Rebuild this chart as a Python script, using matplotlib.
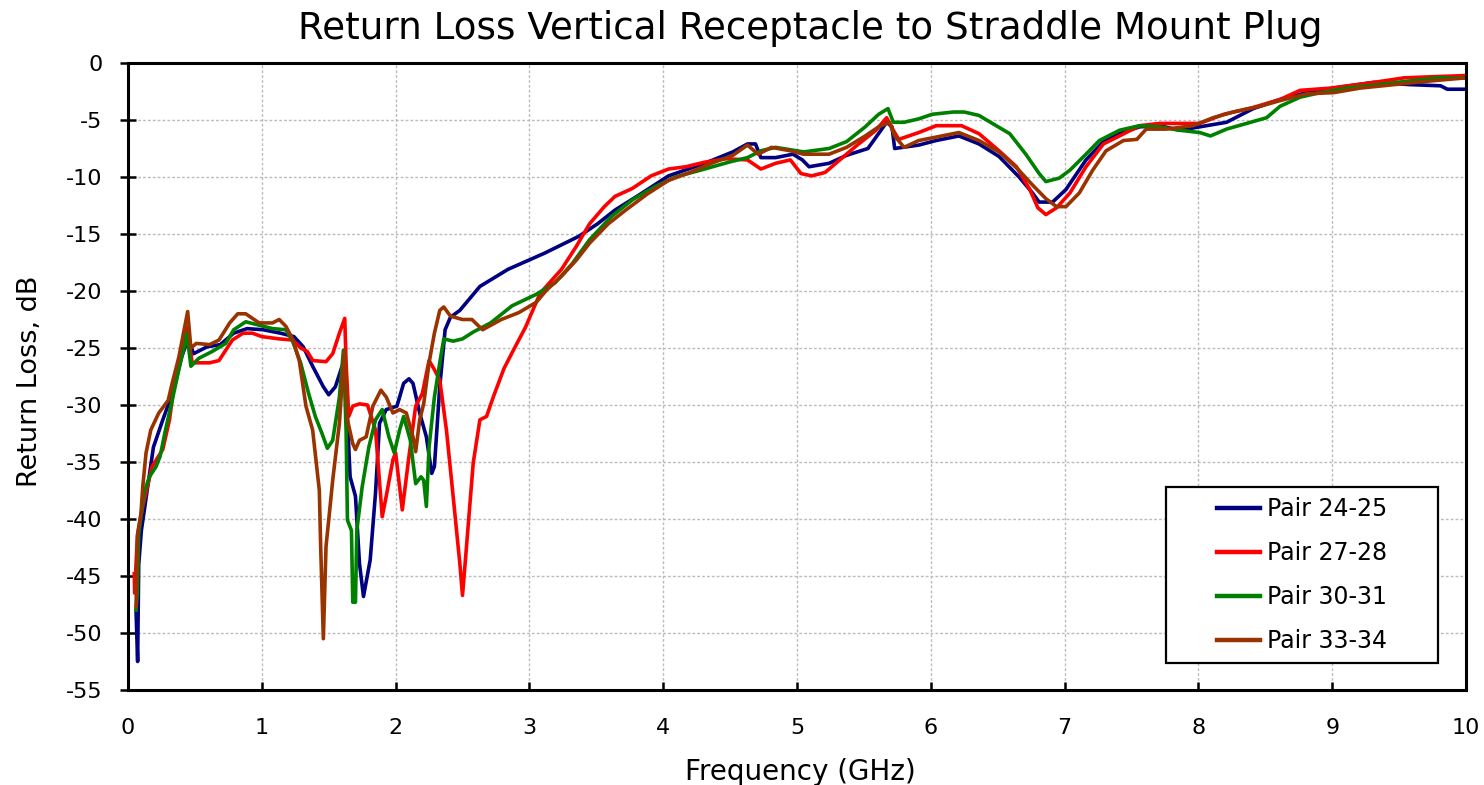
import matplotlib
matplotlib.use("Agg")
import matplotlib.pyplot as plt
from matplotlib.patches import Rectangle

plt.rcParams['font.family'] = ['DejaVu Sans']

# ---------------- data ----------------
f_24_25 = [0.06, 0.072, 0.08, 0.10, 0.19, 0.26, 0.34, 0.40, 0.45, 0.49, 0.59, 0.69, 0.79, 0.89,
           1.01, 1.14, 1.24, 1.31, 1.38, 1.46, 1.50, 1.55, 1.60, 1.62, 1.66, 1.70, 1.73, 1.76,
           1.81, 1.85, 1.88, 1.93, 2.01, 2.06, 2.10, 2.13, 2.18, 2.23, 2.27, 2.29, 2.33, 2.37,
           2.41, 2.48, 2.63, 2.84, 3.11, 3.37, 3.51, 3.64, 3.83, 4.04, 4.31, 4.52, 4.63, 4.69,
           4.73, 4.84, 4.97, 5.04, 5.09, 5.24, 5.37, 5.53, 5.67, 5.71, 5.73, 5.91, 6.04, 6.21,
           6.36, 6.51, 6.66, 6.76, 6.81, 6.91, 7.01, 7.16, 7.29, 7.41, 7.56, 7.71, 7.86, 8.01,
           8.21, 8.41, 8.61, 8.81, 9.01, 9.31, 9.59, 9.81, 9.86, 10.0]
rl_24_25 = [-48.0, -52.5, -44.0, -41.0, -33.7, -31.3, -28.7, -25.8, -24.2, -25.5, -24.9, -24.7, -23.7, -23.3,
            -23.4, -23.7, -24.0, -24.9, -26.6, -28.4, -29.1, -28.4, -26.6, -26.0, -36.3, -38.0, -43.9, -46.8,
            -43.6, -37.7, -31.6, -30.4, -30.1, -28.1, -27.7, -28.1, -30.7, -32.8, -36.0, -35.4, -28.4, -23.4,
            -22.3, -21.7, -19.6, -18.1, -16.7, -15.2, -14.1, -12.9, -11.5, -9.9, -8.8, -7.8, -7.1, -7.1,
            -8.3, -8.3, -8.0, -8.5, -9.1, -8.8, -8.1, -7.5, -5.2, -5.6, -7.5, -7.2, -6.8, -6.4,
            -7.1, -8.2, -10.0, -11.4, -12.2, -12.2, -11.1, -8.5, -6.9, -6.2, -5.6, -5.5, -5.9, -5.6,
            -5.2, -4.0, -3.2, -2.6, -2.2, -1.7, -1.9, -2.0, -2.3, -2.3]

f_27_28 = [0.047, 0.05, 0.07, 0.11, 0.18, 0.26, 0.31, 0.34, 0.39, 0.44, 0.48, 0.61, 0.68, 0.73,
           0.78, 0.86, 0.93, 1.00, 1.13, 1.23, 1.29, 1.34, 1.38, 1.48, 1.53, 1.58, 1.62, 1.63,
           1.65, 1.68, 1.73, 1.79, 1.85, 1.90, 1.93, 1.98, 2.00, 2.05, 2.10, 2.15, 2.20, 2.25,
           2.29, 2.33, 2.38, 2.43, 2.48, 2.50, 2.53, 2.58, 2.63, 2.68, 2.73, 2.81, 2.88, 2.97,
           3.08, 3.24, 3.35, 3.45, 3.56, 3.64, 3.77, 3.91, 4.04, 4.17, 4.31, 4.47, 4.63, 4.73,
           4.84, 4.95, 5.03, 5.11, 5.21, 5.32, 5.45, 5.59, 5.67, 5.72, 5.76, 5.91, 6.04, 6.23,
           6.36, 6.51, 6.64, 6.74, 6.80, 6.86, 6.94, 7.04, 7.16, 7.29, 7.41, 7.56, 7.71, 7.86,
           8.01, 8.19, 8.41, 8.61, 8.76, 8.99, 9.31, 9.54, 9.76, 10.0]
rl_27_28 = [-44.8, -46.5, -41.5, -38.9, -35.4, -33.9, -31.3, -28.7, -25.8, -23.2, -26.3, -26.3, -26.1, -25.2,
            -24.3, -23.7, -23.7, -24.0, -24.2, -24.3, -25.0, -25.3, -26.1, -26.2, -25.5, -23.7, -22.4, -26.3,
            -31.0, -30.1, -29.9, -30.0, -32.2, -39.8, -38.0, -34.8, -34.2, -39.2, -34.5, -30.1, -29.0, -26.1,
            -26.9, -27.8, -32.2, -38.0, -43.9, -46.7, -42.4, -35.1, -31.3, -31.0, -29.3, -26.8, -25.2, -23.2,
            -20.2, -18.1, -16.1, -14.1, -12.6, -11.7, -11.0, -9.9, -9.3, -9.1, -8.7, -8.4, -8.5, -9.3,
            -8.8, -8.5, -9.7, -9.9, -9.6, -8.5, -7.2, -5.9, -4.8, -5.9, -6.7, -6.1, -5.5, -5.5,
            -6.2, -7.7, -9.1, -11.1, -12.7, -13.3, -12.7, -11.4, -9.1, -7.1, -6.4, -5.5, -5.3, -5.3,
            -5.3, -4.5, -3.9, -3.2, -2.4, -2.2, -1.7, -1.3, -1.2, -1.1]

f_30_31 = [0.06, 0.07, 0.08, 0.12, 0.16, 0.21, 0.24, 0.28, 0.33, 0.38, 0.43, 0.44, 0.47, 0.53,
           0.63, 0.73, 0.79, 0.88, 0.98, 1.08, 1.18, 1.23, 1.29, 1.35, 1.40, 1.45, 1.49, 1.53,
           1.58, 1.61, 1.63, 1.64, 1.67, 1.68, 1.70, 1.71, 1.75, 1.80, 1.85, 1.90, 1.95, 1.99,
           2.03, 2.06, 2.11, 2.15, 2.19, 2.21, 2.23, 2.25, 2.29, 2.33, 2.36, 2.43, 2.50, 2.58,
           2.71, 2.87, 3.05, 3.19, 3.32, 3.45, 3.61, 3.77, 3.93, 4.09, 4.31, 4.49, 4.63, 4.73,
           4.84, 5.05, 5.24, 5.37, 5.51, 5.61, 5.68, 5.72, 5.80, 5.91, 6.01, 6.17, 6.25, 6.36,
           6.46, 6.59, 6.71, 6.81, 6.86, 6.96, 7.04, 7.16, 7.26, 7.41, 7.56, 7.71, 7.86, 8.01,
           8.09, 8.21, 8.36, 8.51, 8.61, 8.76, 8.91, 9.11, 9.34, 9.56, 9.79, 10.0]
rl_30_31 = [-48.0, -46.5, -41.3, -37.7, -36.3, -35.4, -34.5, -32.2, -29.6, -26.9, -24.4, -23.7, -26.6, -25.9,
            -25.3, -24.6, -23.4, -22.7, -23.0, -23.3, -23.4, -24.4, -26.3, -29.0, -31.0, -32.5, -33.8, -33.1,
            -29.3, -25.2, -32.2, -40.1, -41.0, -47.3, -47.3, -41.0, -37.2, -33.7, -31.3, -30.4, -32.8, -34.2,
            -32.2, -31.0, -33.1, -36.9, -36.3, -36.6, -38.9, -33.7, -29.3, -26.3, -24.2, -24.4, -24.2, -23.6,
            -22.8, -21.3, -20.3, -19.3, -17.6, -15.5, -13.5, -12.0, -10.9, -10.0, -9.3, -8.7, -8.3, -7.7,
            -7.4, -7.8, -7.5, -6.9, -5.6, -4.5, -4.0, -5.2, -5.2, -4.9, -4.5, -4.3, -4.3, -4.6,
            -5.3, -6.2, -8.0, -9.7, -10.4, -10.1, -9.4, -8.0, -6.8, -5.9, -5.5, -5.6, -5.9, -6.1,
            -6.4, -5.8, -5.3, -4.8, -3.8, -3.0, -2.6, -2.2, -1.9, -1.6, -1.3, -1.3]

f_33_34 = [0.06, 0.072, 0.097, 0.11, 0.135, 0.17, 0.23, 0.30, 0.33, 0.38, 0.446, 0.47, 0.51, 0.61,
           0.68, 0.76, 0.82, 0.88, 0.98, 1.08, 1.13, 1.18, 1.23, 1.28, 1.33, 1.38, 1.43, 1.44,
           1.46, 1.48, 1.50, 1.53, 1.58, 1.61, 1.62, 1.64, 1.68, 1.70, 1.73, 1.78, 1.83, 1.89,
           1.93, 1.98, 2.03, 2.08, 2.13, 2.15, 2.18, 2.21, 2.25, 2.29, 2.33, 2.36, 2.41, 2.50,
           2.57, 2.65, 2.79, 2.92, 3.05, 3.13, 3.24, 3.35, 3.45, 3.59, 3.72, 3.88, 4.04, 4.20,
           4.36, 4.52, 4.63, 4.71, 4.81, 4.95, 5.05, 5.24, 5.37, 5.51, 5.61, 5.69, 5.73, 5.80,
           5.91, 6.04, 6.21, 6.36, 6.51, 6.65, 6.76, 6.86, 6.94, 7.01, 7.11, 7.21, 7.31, 7.44,
           7.54, 7.61, 7.76, 7.96, 8.11, 8.26, 8.46, 8.61, 8.81, 9.01, 9.21, 9.46, 9.71, 10.0]
rl_33_34 = [-47.7, -41.3, -39.5, -37.2, -34.2, -32.2, -30.7, -29.6, -28.1, -25.8, -21.8, -25.0, -24.6, -24.7,
            -24.3, -22.8, -22.0, -22.0, -22.8, -22.8, -22.5, -23.1, -24.2, -26.1, -30.1, -32.2, -37.5, -42.4,
            -50.5, -42.4, -40.1, -36.6, -31.6, -26.3, -25.2, -31.3, -33.4, -33.9, -33.1, -32.8, -30.1, -28.7,
            -29.3, -30.7, -30.4, -30.7, -32.8, -34.1, -31.3, -29.9, -26.3, -23.7, -21.7, -21.4, -22.2, -22.5,
            -22.5, -23.4, -22.5, -21.9, -21.0, -19.9, -18.7, -17.3, -15.8, -14.1, -12.9, -11.5, -10.3, -9.6,
            -8.8, -8.1, -7.2, -8.0, -7.4, -7.7, -8.0, -8.0, -7.4, -6.4, -5.6, -5.2, -6.4, -7.4,
            -6.8, -6.5, -6.1, -6.8, -7.8, -9.3, -10.7, -11.9, -12.6, -12.6, -11.4, -9.4, -7.7, -6.8,
            -6.7, -5.8, -5.8, -5.5, -4.8, -4.3, -3.8, -3.3, -2.7, -2.6, -2.2, -1.9, -1.6, -1.3]

series_labels = ["Pair 24-25", "Pair 27-28", "Pair 30-31", "Pair 33-34"]
series_colors = ["#000080", "#FF0000", "#008000", "#993300"]

x_ticks = list(range(0, 11))
y_ticks = list(range(-55, 1, 5))

title_text = "Return Loss Vertical Receptacle to Straddle Mount Plug"
x_label = "Frequency (GHz)"
y_label = "Return Loss, dB"

# ---------------- figure ----------------
W, H = 1484, 785
fig = plt.figure(figsize=(W / 100, H / 100), dpi=100)
ax = fig.add_axes([128 / W, 1 - 690 / H, (1466 - 128) / W, (690 - 63) / H])

data = [(f_24_25, rl_24_25), (f_27_28, rl_27_28), (f_30_31, rl_30_31), (f_33_34, rl_33_34)]
for (fx, fy), lab, col in zip(data, series_labels, series_colors):
    ax.plot(fx, fy, color=col, lw=2.6, label=lab, solid_joinstyle='round')

ax.set_xlim(0, 10)
ax.set_ylim(-55, 0)
ax.set_xticks(x_ticks)
ax.set_yticks(y_ticks)
ax.set_xticklabels([str(v) for v in x_ticks])
ax.set_yticklabels([str(v) for v in y_ticks])
ax.tick_params(axis='x', direction='in', length=6, width=1.8, labelsize=16, pad=20)
ax.tick_params(axis='y', direction='inout', length=12, width=1.8, labelsize=16, pad=12.5)
ax.grid(True, color='#bcbcbc', linestyle=(0, (2.0, 1.5)), linewidth=1.0)
ax.set_axisbelow(True)
for s in ax.spines.values():
    s.set_linewidth(2.2)
    s.set_color('black')

fig.text(810 / W, 1 - 39 / H, title_text, fontsize=26.8, ha='center', va='baseline')
fig.text(800 / W, 1 - 780 / H, x_label, fontsize=20, ha='center', va='baseline')
fig.text(30 / W, 1 - 381 / H, y_label, fontsize=19.5, ha='center', va='center', rotation=90)

# legend box (drawn inside the axes so the legend can sit on top of it)
box = Rectangle((1166 / W, 1 - 663 / H), (1438 - 1166) / W, (663 - 487) / H,
                transform=fig.transFigure, facecolor='white', edgecolor='black',
                linewidth=1.6, zorder=5, clip_on=False)
ax.add_patch(box)
leg = ax.legend(loc='center', bbox_to_anchor=(1302 / W, 1 - 575 / H),
                bbox_transform=fig.transFigure, fontsize=17, frameon=False,
                handlelength=1.85, labelspacing=0.85, handletextpad=0.28, borderpad=0,
                borderaxespad=0)
leg.set_zorder(10)
for line in leg.get_lines():
    line.set_linewidth(3.2)

fig.savefig("out.png", dpi=100)
